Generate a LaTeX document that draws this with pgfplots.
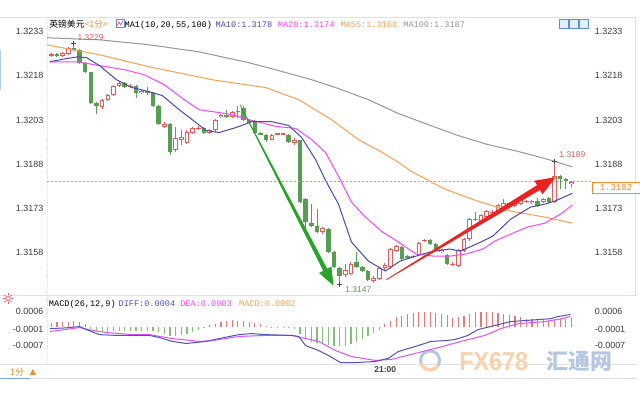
\documentclass[border=0pt]{standalone}
\usepackage{pgfplots}
\pgfplotsset{compat=1.18}
\usepackage{pgfplotstable}
\usepackage{fontspec}
\setmainfont{Liberation Sans}
\newfontfamily\cjk{Noto Sans CJK SC}
\newfontfamily\mono{Liberation Mono}

\definecolor{cRed}{RGB}{226,92,92}
\definecolor{cGreen}{RGB}{86,158,80}
\definecolor{cMA10}{RGB}{72,72,176}
\definecolor{cMA20}{RGB}{250,70,250}
\definecolor{cMA55}{RGB}{246,160,80}
\definecolor{cMA100}{RGB}{150,150,150}
\definecolor{cTick}{RGB}{60,60,60}
\definecolor{cOrange}{RGB}{245,140,40}
\definecolor{cHistR}{RGB}{232,120,120}
\definecolor{cHistG}{RGB}{130,190,120}
\definecolor{cArrR}{RGB}{238,32,32}
\definecolor{cArrG}{RGB}{40,165,40}
\definecolor{cGrid}{RGB}{222,226,232}
\definecolor{cNow}{RGB}{110,185,245}
\definecolor{cWmO}{RGB}{250,208,170}
\definecolor{cWmB}{RGB}{180,198,226}
\definecolor{cTab}{RGB}{120,170,230}
\definecolor{cIcon}{RGB}{90,145,220}
\definecolor{cIconF}{RGB}{225,238,252}
\definecolor{cDiff}{RGB}{80,80,190}
\definecolor{cDea}{RGB}{220,80,255}
\definecolor{cScroll}{RGB}{175,205,240}

% up (red) candles: index open high low close
\pgfplotstableread{
i o h l c
0 1.32249 1.32259 1.32245 1.32255
2 1.32249 1.32262 1.32245 1.32259
3 1.32255 1.32279 1.32252 1.32276
9 1.32075 1.32102 1.32068 1.32099
10 1.32099 1.32119 1.32096 1.32116
11 1.32116 1.32150 1.32113 1.32147
12 1.32147 1.32164 1.32143 1.32157
14 1.32143 1.32153 1.32140 1.32147
16 1.32123 1.32133 1.32119 1.32130
20 1.32007 1.32024 1.32004 1.32017
22 1.31929 1.32007 1.31919 1.31970
23 1.31963 1.31997 1.31946 1.31973
24 1.31953 1.31997 1.31949 1.31990
25 1.31987 1.32007 1.31983 1.32004
26 1.32000 1.32011 1.31997 1.32004
28 1.31987 1.32000 1.31983 1.31994
29 1.31994 1.32034 1.31990 1.32031
30 1.32041 1.32051 1.32038 1.32048
32 1.32041 1.32062 1.32038 1.32058
33 1.32058 1.32079 1.32038 1.32062
39 1.31963 1.31983 1.31960 1.31980
40 1.31980 1.31983 1.31977 1.31980
41 1.31980 1.31983 1.31977 1.31980
43 1.31953 1.31970 1.31946 1.31963
48 1.31648 1.31665 1.31641 1.31661
52 1.31502 1.31539 1.31495 1.31519
53 1.31505 1.31546 1.31502 1.31539
57 1.31481 1.31498 1.31474 1.31491
58 1.31488 1.31529 1.31485 1.31525
59 1.31525 1.31542 1.31519 1.31536
60 1.31529 1.31593 1.31522 1.31590
61 1.31583 1.31604 1.31580 1.31600
64 1.31563 1.31570 1.31559 1.31566
65 1.31570 1.31614 1.31566 1.31610
66 1.31617 1.31624 1.31614 1.31621
69 1.31580 1.31590 1.31576 1.31587
71 1.31536 1.31546 1.31532 1.31539
72 1.31532 1.31590 1.31529 1.31587
73 1.31583 1.31627 1.31580 1.31624
74 1.31624 1.31695 1.31617 1.31692
75 1.31688 1.31716 1.31685 1.31692
76 1.31685 1.31709 1.31682 1.31706
77 1.31699 1.31723 1.31695 1.31719
78 1.31712 1.31723 1.31709 1.31716
79 1.31719 1.31743 1.31716 1.31740
80 1.31733 1.31760 1.31729 1.31746
82 1.31736 1.31753 1.31733 1.31750
83 1.31743 1.31760 1.31740 1.31756
84 1.31750 1.31756 1.31746 1.31753
85 1.31746 1.31756 1.31743 1.31753
87 1.31750 1.31763 1.31746 1.31760
89 1.31750 1.31890 1.31746 1.31838
92 1.31813 1.31821 1.31801 1.31820
}\upC

% down (green) candles
\pgfplotstableread{
i o h l c
1 1.32255 1.32259 1.32245 1.32249
4 1.32276 1.32290 1.32266 1.32269
5 1.32269 1.32272 1.32221 1.32225
6 1.32225 1.32228 1.32191 1.32194
7 1.32194 1.32194 1.32085 1.32089
8 1.32089 1.32092 1.32051 1.32079
13 1.32157 1.32160 1.32140 1.32143
15 1.32147 1.32150 1.32106 1.32123
17 1.32130 1.32143 1.32116 1.32123
18 1.32123 1.32126 1.32075 1.32079
19 1.32079 1.32082 1.32014 1.32017
21 1.32017 1.32021 1.31912 1.31919
27 1.32004 1.32007 1.31983 1.31987
31 1.32048 1.32065 1.32038 1.32041
34 1.32072 1.32079 1.32028 1.32031
35 1.32031 1.32034 1.32017 1.32021
36 1.32024 1.32031 1.31983 1.31987
37 1.31987 1.31990 1.31977 1.31980
38 1.31980 1.31983 1.31956 1.31960
42 1.31980 1.31983 1.31953 1.31956
44 1.31960 1.31963 1.31746 1.31750
45 1.31760 1.31763 1.31658 1.31682
46 1.31678 1.31743 1.31665 1.31668
47 1.31668 1.31726 1.31644 1.31648
49 1.31658 1.31661 1.31576 1.31580
50 1.31580 1.31583 1.31525 1.31529
51 1.31525 1.31529 1.31470 1.31498
54 1.31546 1.31580 1.31525 1.31529
55 1.31529 1.31532 1.31512 1.31515
56 1.31515 1.31519 1.31481 1.31485
62 1.31597 1.31600 1.31553 1.31556
63 1.31566 1.31570 1.31556 1.31559
67 1.31621 1.31624 1.31604 1.31607
68 1.31607 1.31610 1.31580 1.31583
70 1.31570 1.31573 1.31536 1.31539
81 1.31746 1.31750 1.31726 1.31736
86 1.31753 1.31763 1.31733 1.31736
88 1.31763 1.31767 1.31746 1.31750
90 1.31838 1.31841 1.31794 1.31828
91 1.31828 1.31831 1.31794 1.31821
}\dnC

\pgfplotstableread{
i p
-0.79 1.32310
8.54 1.32303
17.34 1.32286
26.14 1.32262
34.95 1.32225
40.23 1.32198
46.04 1.32167
50.79 1.32137
56.07 1.32099
61.36 1.32052
66.64 1.32014
71.92 1.31977
77.20 1.31946
82.48 1.31923
87.76 1.31896
92.17 1.31870
}\maC

\pgfplotstableread{
i p
-0.79 1.32286
8.54 1.32252
17.34 1.32211
28.43 1.32167
37.94 1.32140
43.75 1.32099
49.56 1.32031
54.31 1.31963
58.19 1.31923
61.36 1.31886
63.64 1.31855
69.63 1.31794
75.44 1.31753
81.25 1.31719
87.24 1.31699
92.17 1.31678
}\maL

\pgfplotstableread{
i p
-0.26 1.32228
4.67 1.32228
8.54 1.32215
12.94 1.32201
16.46 1.32184
19.98 1.32150
23.50 1.32099
26.14 1.32065
29.67 1.32055
31.95 1.32048
34.95 1.32031
39.70 1.32008
43.22 1.32001
46.04 1.31963
48.50 1.31919
50.79 1.31838
53.08 1.31750
55.55 1.31699
58.36 1.31651
61.36 1.31614
64.52 1.31573
67.52 1.31566
70.51 1.31566
73.33 1.31573
76.32 1.31590
78.43 1.31617
81.25 1.31641
84.24 1.31665
87.24 1.31678
90.05 1.31709
92.17 1.31740
}\maM

\pgfplotstableread{
i p
-0.26 1.32228
2.38 1.32238
4.67 1.32245
6.25 1.32242
8.54 1.32215
11.53 1.32167
14.35 1.32140
17.34 1.32126
19.63 1.32113
22.62 1.32065
24.91 1.32031
27.38 1.31994
29.67 1.31987
32.66 1.32004
35.48 1.32024
39.00 1.32024
41.99 1.32011
44.28 1.31970
46.74 1.31895
48.50 1.31824
50.79 1.31743
53.08 1.31614
56.07 1.31549
59.07 1.31515
61.71 1.31549
64.52 1.31566
67.52 1.31583
70.51 1.31590
72.27 1.31583
74.03 1.31597
76.32 1.31617
78.08 1.31634
81.25 1.31692
84.77 1.31733
87.24 1.31743
89.00 1.31753
92.17 1.31780
}\maS

% MACD histogram
\pgfplotstableread{
i up dn
0 0.00015 0
1 0.00019 0
2 0.00019 0
3 0.00019 0
4 0.00023 0
5 0.00019 0
6 0.00011 0
7 0 -0.00008
8 0 -0.00015
9 0 -0.00019
10 0 -0.00019
11 0 -0.00015
12 0 -0.00015
13 0 -0.00015
14 0 -0.00015
15 0 -0.00015
16 0 -0.00015
17 0 -0.00015
18 0 -0.00015
19 0 -0.00019
20 0 -0.00027
21 0 -0.00034
22 0 -0.00034
23 0 -0.00031
24 0 -0.00027
25 0 -0.00019
26 0 -0.00011
27 0 -0.00004
28 0.00008 0
29 0.00011 0
30 0.00019 0
31 0.00023 0
32 0.00027 0
33 0.00023 0
34 0.00023 0
35 0.00019 0
36 0.00015 0
37 0.00011 0
38 0.00004 0
39 0.00002 0
40 0.00002 0
41 0.00002 0
42 0.00002 0
43 0 -0.00008
44 0 -0.00027
45 0 -0.00046
46 0 -0.00057
47 0 -0.00061
48 0 -0.00065
49 0 -0.00069
50 0 -0.00071
51 0 -0.00071
52 0 -0.00071
53 0 -0.00065
54 0 -0.00057
55 0 -0.00046
56 0 -0.00034
57 0 -0.00023
58 0 -0.00011
59 0.00010 0
60 0.00025 0
61 0.00040 0
62 0.00044 0
63 0.00052 0
64 0.00055 0
65 0.00059 0
66 0.00059 0
67 0.00059 0
68 0.00055 0
69 0.00052 0
70 0.00048 0
71 0.00036 0
72 0.00040 0
73 0.00044 0
74 0.00052 0
75 0.00059 0
76 0.00059 0
77 0.00059 0
78 0.00059 0
79 0.00055 0
80 0.00052 0
81 0.00048 0
82 0.00044 0
83 0.00040 0
84 0.00032 0
85 0.00032 0
86 0.00029 0
87 0.00029 0
88 0.00029 0
89 0.00032 0
90 0.00032 0
91 0.00032 0
92 0.00036 0
}\hist

\pgfplotstableread{
i v
-0.26 -0.00006
2.73 -0.00003
5.02 0.00002
6.25 -0.00010
8.54 -0.00029
11.53 -0.00032
17.34 -0.00032
19.10 -0.00040
21.40 -0.00055
23.86 -0.00063
27.38 -0.00055
29.67 -0.00044
33.19 -0.00029
35.48 -0.00025
37.94 -0.00029
42.52 -0.00032
43.75 -0.00036
44.98 -0.00071
47.27 -0.00090
49.03 -0.00109
51.14 -0.00136
53.79 -0.00136
57.31 -0.00132
59.60 -0.00120
61.36 -0.00094
64.88 -0.00071
67.17 -0.00055
69.63 -0.00052
71.39 -0.00048
73.68 -0.00032
75.44 -0.00010
78.43 0.00006
81.25 0.00021
83.71 0.00025
88.29 0.00032
89.52 0.00040
91.81 0.00048
}\diff

\pgfplotstableread{
i v
-0.26 -0.00017
5.02 -0.00002
7.31 -0.00013
9.77 -0.00021
14.35 -0.00029
17.34 -0.00029
21.39 -0.00044
26.14 -0.00055
28.43 -0.00052
33.19 -0.00036
37.94 -0.00032
42.52 -0.00032
44.98 -0.00044
47.27 -0.00055
50.26 -0.00090
53.08 -0.00113
57.31 -0.00128
60.12 -0.00124
63.64 -0.00105
67.87 -0.00082
72.45 -0.00055
76.67 -0.00032
79.49 -0.00006
82.48 0.00013
87.24 0.00021
89.52 0.00029
91.81 0.00040
}\dea

\pgfplotsset{
  panel/.style={anchor=south west, scale only axis, width=546bp,
    xmin=-0.792, xmax=95.33, axis line style={draw=none}, xtick=\empty,
    major tick length=0pt, tick style={draw=none}, scaled y ticks=false,
    yticklabel style={font=\fontsize{9bp}{10bp}\selectfont, text=cTick,
      /pgf/number format/fixed, /pgf/number format/fixed zerofill,
      /pgf/number format/precision=4, /pgf/number format/assume math mode=true}},
  mainax/.style={panel, at={(47bp,-292bp)}, height=275bp,
    ymin=1.31448, ymax=1.32381,
    ytick={1.3158,1.3173,1.3188,1.3203,1.3218,1.3233}},
  macdax/.style={panel, at={(47bp,-366bp)}, height=71bp,
    ymin=-0.00143, ymax=0.00128,
    ytick={0.0006,-0.0001,-0.0007}, yticklabels={0.0006,-0.0001,-0.0007}},
  wick/.style={forget plot, draw=none, mark=none,
    error bars/.cd, y dir=plus, y explicit, error mark=none,
    error bar style={draw=#1, line width=1bp}},
  body/.style 2 args={forget plot, draw=none, mark=none,
    error bars/.cd, y dir=plus, y explicit, error mark=none,
    error bar style={draw=#1, line width=#2}},
}

\begin{document}
\begin{tikzpicture}
\begin{scope}[x=1bp,y=-1bp]
\useasboundingbox (0,0) rectangle (640,400);
\fill[white] (0,0) rectangle (640,400);
% frame lines
\draw[cGrid, line width=0.8bp] (0,17.5) -- (640,17.5);
\draw[cGrid, line width=0.8bp, densely dotted] (47.5,17.5) -- (47.5,366);
\draw[cGrid, line width=0.8bp] (0,296.5) -- (640,296.5);
\draw[cGrid, line width=0.8bp] (638.5,17.5) -- (638.5,296.5);
\draw[cGrid, line width=0.8bp] (0,366.5) -- (640,366.5);
\draw[cGrid, line width=0.8bp] (0,380.5) -- (640,380.5);
\draw[cTab, line width=1.2bp] (0,380.5) -- (30,380.5);
% watermark
\draw[cWmB, line width=3bp] (432,362) circle (9.5bp);
\draw[cWmO, line width=3bp] (432,362) ++(200:9.5bp) arc (200:330:9.5bp);
\node[text=cWmO, font=\fontsize{26bp}{27bp}\selectfont\bfseries, inner sep=0pt, xscale=0.9] at (496,363) {FX678};
\node[text=cWmB, font=\cjk\fontsize{22bp}{23bp}\selectfont\bfseries, inner sep=0pt] at (582,363) {汇通网};
\end{scope}

% ---- main price panel
\begin{axis}[mainax]
\addplot[wick=cRed] table[x=i, y=l, y error plus expr=\thisrow{h}-\thisrow{l}] {\upC};
\addplot[wick=cGreen] table[x=i, y=l, y error plus expr=\thisrow{h}-\thisrow{l}] {\dnC};
\addplot[body={cRed}{4.6bp}] table[x=i, y=o, y error plus expr={max(\thisrow{c}-\thisrow{o},0.00004)}] {\upC};
\addplot[body={white}{2.6bp}] table[x=i, y expr=\thisrow{o}+0.000034, y error plus expr={max(\thisrow{c}-\thisrow{o}-0.000068,0)}] {\upC};
\addplot[body={cGreen}{4.6bp}] table[x=i, y=c, y error plus expr={max(\thisrow{o}-\thisrow{c},0.00004)}] {\dnC};
\addplot[cMA100, line width=1bp, mark=none] table[x=i, y=p] {\maC};
\addplot[cMA55, line width=1bp, mark=none] table[x=i, y=p] {\maL};
\addplot[cMA20, line width=1bp, mark=none] table[x=i, y=p] {\maM};
\addplot[cMA10, line width=1bp, mark=none] table[x=i, y=p] {\maS};
\end{axis}
\begin{axis}[mainax, yticklabel pos=right, yticklabel style={xshift=1bp}]
\end{axis}

% ---- MACD panel
\begin{axis}[macdax]
\addplot[ycomb, cHistR, line width=1.2bp, mark=none] table[x=i, y=up] {\hist};
\addplot[ycomb, cHistG, line width=1.2bp, mark=none] table[x=i, y=dn] {\hist};
\addplot[cDea, line width=1bp, mark=none] table[x=i, y=v] {\dea};
\addplot[cDiff, line width=1bp, mark=none] table[x=i, y=v] {\diff};
\end{axis}
\begin{axis}[macdax, yticklabel pos=right, yticklabel style={xshift=1bp}]
\end{axis}

\begin{scope}[x=1bp,y=-1bp]
% current price line
\draw[cNow, line width=1bp, dash pattern=on 2bp off 2bp] (47.5,182.7) -- (594,182.7);
\node[draw=cOrange, fill=white, text=cOrange, font=\mono\fontsize{9bp}{10bp}\selectfont, inner sep=1.5bp, anchor=north west, minimum height=11bp, minimum width=48bp] at (594.5,182.5) {1.3182};
% arrows
\fill[cArrG] (240.7,105.1) -- (324.7,272) -- (320.5,274.2) -- (335,287) -- (332.9,267.8) -- (328.7,270) -- (241.3,104.9) -- cycle;
\fill[cArrR] (388.2,281.3) -- (542.4,190.8) -- (545.0,195.2) -- (558,178) -- (536.8,181.5) -- (539.5,186.0) -- (387.8,280.7) -- cycle;
% extreme markers
\draw[black!70, line width=0.8bp] (71.5,44) -- (76.5,44) (74,41.5) -- (74,46.5);
\draw[black!70, line width=0.8bp] (338.8,286) -- (343.8,286) (341.3,283.5) -- (341.3,288.5);
\draw[black!70, line width=0.8bp] (554.9,162) -- (559.9,162) (557.4,159.5) -- (557.4,164.5);
\node[text=cRed, font=\fontsize{8.5bp}{9bp}\selectfont, inner sep=0pt] at (91,38) {1.3229};
\node[text=cGreen, font=\fontsize{8.5bp}{9bp}\selectfont, inner sep=0pt] at (360,291) {1.3147};
\node[text=cRed, font=\fontsize{8.5bp}{9bp}\selectfont, inner sep=0pt] at (575,155) {1.3189};
% header
\node[anchor=base west, inner sep=0pt, font=\cjk\fontsize{8.8bp}{9bp}\selectfont] at (49.5,27.5) {英镑美元\textcolor{cOrange}{<1分>}};
\draw[cIcon, line width=0.7bp] (116.5,19.5) rectangle (124.5,27.5);
\draw[cRed, line width=0.7bp] (117.5,26) -- (119.5,22) -- (121,25) -- (123.5,21);
\node[anchor=base west, inner sep=0pt, font=\mono\fontsize{8.6bp}{9bp}\selectfont] at (125,27.5) {MA1(10,20,55,100)};
\node[anchor=base west, inner sep=0pt, font=\mono\fontsize{8.6bp}{9bp}\selectfont, text=cMA10] at (216.5,27.5) {MA10:1.3178};
\node[anchor=base west, inner sep=0pt, font=\mono\fontsize{8.6bp}{9bp}\selectfont, text=cMA20] at (279,27.5) {MA20:1.3174};
\node[anchor=base west, inner sep=0pt, font=\mono\fontsize{8.6bp}{9bp}\selectfont, text=cMA55] at (342,27.5) {MA55:1.3168};
\node[anchor=base west, inner sep=0pt, font=\mono\fontsize{8.6bp}{9bp}\selectfont, text=cMA100] at (405,27.5) {MA100:1.3187};
\foreach \xx in {562,572,582}{
  \draw[cIcon, fill=cIconF, line width=0.7bp] (\xx,19.5) rectangle (\xx+9,28.5);
}
% MACD header
\draw[cRed, line width=0.7bp] (8,300) circle (2.2bp);
\foreach \a in {0,45,...,315}{\draw[cRed, line width=0.6bp] (8,300) ++(\a:3.2bp) -- ++(\a:2bp);}
\node[anchor=base west, inner sep=0pt, font=\mono\fontsize{8.6bp}{9bp}\selectfont] at (49,307.5) {MACD(26,12,9)};
\node[anchor=base west, inner sep=0pt, font=\mono\fontsize{8.6bp}{9bp}\selectfont, text=cDiff] at (119,307.5) {DIFF:0.0004};
\node[anchor=base west, inner sep=0pt, font=\mono\fontsize{8.6bp}{9bp}\selectfont, text=cMA20] at (181,307.5) {DEA:0.0003};
\node[anchor=base west, inner sep=0pt, font=\mono\fontsize{8.6bp}{9bp}\selectfont, text=cMA55] at (240,307.5) {MACD:0.0002};
% time label and tab
\node[inner sep=0pt, font=\fontsize{8.5bp}{9bp}\selectfont\bfseries, text=black!75] at (387,371.5) {21:00};
\node[anchor=base west, inner sep=0pt, font=\cjk\fontsize{9bp}{10bp}\selectfont, text=cOrange] at (10,377) {1分};
\fill[cOrange] (30,376.5) -- (36,376.5) -- (33,370.5) -- cycle;
\fill[cScroll] (0,50) rectangle (1.5,90);
\end{scope}
\end{tikzpicture}
\end{document}
